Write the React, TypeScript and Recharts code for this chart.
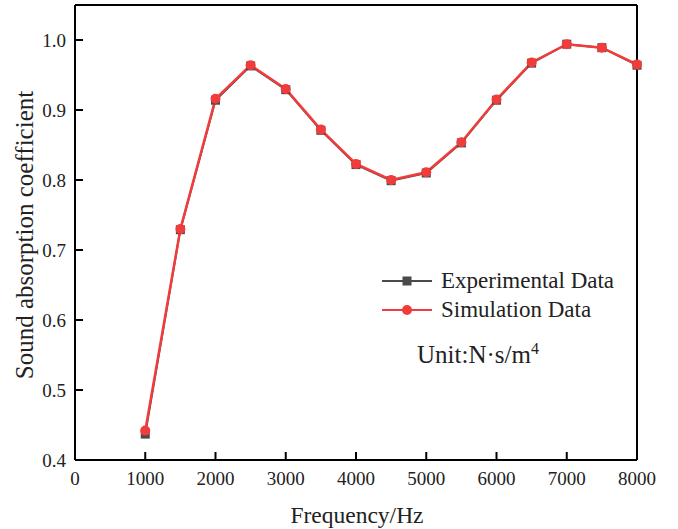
import { LineChart, Line, XAxis, YAxis, ReferenceLine, Legend } from 'recharts'

const frequency = [1000, 1500, 2000, 2500, 3000, 3500, 4000, 4500, 5000, 5500, 6000, 6500, 7000, 7500, 8000]
const experimental = [0.437, 0.729, 0.914, 0.963, 0.929, 0.871, 0.822, 0.799, 0.81, 0.853, 0.914, 0.967, 0.994, 0.989, 0.964]
const simulation = [0.442, 0.73, 0.916, 0.964, 0.93, 0.872, 0.823, 0.8, 0.811, 0.854, 0.915, 0.968, 0.994, 0.989, 0.965]
const xTicks = [0, 1000, 2000, 3000, 4000, 5000, 6000, 7000, 8000]
const yTicks = [0.4, 0.5, 0.6, 0.7, 0.8, 0.9, 1.0]

const data = frequency.map((f, i) => ({ f, exp: experimental[i], sim: simulation[i] }))

const FONT = '"Liberation Serif", "Times New Roman", serif'
const RED = '#f23c3c'
const GRAY = '#4a4a4a'

const YTick = (props: any) => {
  const { x, y, payload } = props
  return (
    <g>
      <line x1={x + 9} x2={x + 17} y1={y} y2={y} stroke="#000" strokeWidth={2} />
      <text x={x} y={y} textAnchor="end" dominantBaseline="central" fontFamily={FONT} fontSize={19} fill="#222">
        {payload.value.toFixed(1)}
      </text>
    </g>
  )
}

const XTick = (props: any) => {
  const { x, y, payload } = props
  return (
    <g>
      <line x1={x} x2={x} y1={y - 9} y2={y - 17} stroke="#000" strokeWidth={2} />
      <text x={x} y={y + 9} textAnchor="middle" dominantBaseline="central" fontFamily={FONT} fontSize={19} fill="#222">
        {payload.value}
      </text>
    </g>
  )
}

const SquareDot = (props: any) => {
  const { cx, cy } = props
  if (cx == null || cy == null) return null
  return <rect x={cx - 4.5} y={cy - 4.5} width={9} height={9} fill={GRAY} />
}

const LegendBox = () => (
  <div style={{ fontFamily: FONT, fontSize: 23, color: '#222', lineHeight: '29px' }}>
    <div style={{ display: 'flex', alignItems: 'center' }}>
      <svg width={61} height={14}>
        <line x1={2} x2={52} y1={7} y2={7} stroke={GRAY} strokeWidth={2} />
        <rect x={22.5} y={2.5} width={9} height={9} fill={GRAY} />
      </svg>
      <span>Experimental Data</span>
    </div>
    <div style={{ display: 'flex', alignItems: 'center' }}>
      <svg width={61} height={14}>
        <line x1={2} x2={52} y1={7} y2={7} stroke={RED} strokeWidth={2} />
        <circle cx={27} cy={7} r={5} fill={RED} />
      </svg>
      <span>Simulation Data</span>
    </div>
    <div style={{ marginTop: 10, marginLeft: 37, fontSize: 25 }}>
      Unit:N·s/m<sup style={{ fontSize: 16 }}>4</sup>
    </div>
  </div>
)

export default function App() {
  return (
    <div style={{ position: 'absolute', left: 0, top: 0, width: 678, height: 529, background: '#fff' }}>
      <LineChart width={678} height={529} data={data} margin={{ top: 5, right: 41, left: 15, bottom: 0 }}>
        <XAxis
          dataKey="f"
          type="number"
          domain={[0, 8000]}
          ticks={xTicks}
          tickSize={0}
          tickMargin={9}
          tick={<XTick />}
          axisLine={{ stroke: '#000', strokeWidth: 2 }}
          height={69}
          label={{
            content: () => (
              <text x={357} y={515} textAnchor="middle" dominantBaseline="central" fontFamily={FONT} fontSize={23.5} fill="#222">
                Frequency/Hz
              </text>
            ),
          }}
        />
        <YAxis
          type="number"
          domain={[0.4, 1.05]}
          ticks={yTicks}
          tickSize={0}
          tickMargin={9}
          tick={<YTick />}
          axisLine={{ stroke: '#000', strokeWidth: 2 }}
          width={60}
          label={{
            content: () => (
              <text transform="translate(24,235) rotate(-90)" textAnchor="middle" dominantBaseline="central" fontFamily={FONT} fontSize={25} fill="#222">
                Sound absorption coefficient
              </text>
            ),
          }}
        />
        <ReferenceLine y={1.05} stroke="#000" strokeWidth={2} />
        <ReferenceLine x={8000} stroke="#000" strokeWidth={2} />
        <Line
          dataKey="exp"
          type="linear"
          stroke={GRAY}
          strokeWidth={2}
          dot={<SquareDot />}
          isAnimationActive={false}
        />
        <Line
          dataKey="sim"
          type="linear"
          stroke={RED}
          strokeWidth={2.5}
          dot={{ r: 5, fill: RED, stroke: RED, strokeWidth: 0 }}
          isAnimationActive={false}
        />
        <Legend
          layout="vertical"
          align="center"
          verticalAlign="middle"
          content={() => <LegendBox />}
          wrapperStyle={{ position: 'absolute', left: 380, top: 266, width: 280 }}
        />
      </LineChart>
    </div>
  )
}
